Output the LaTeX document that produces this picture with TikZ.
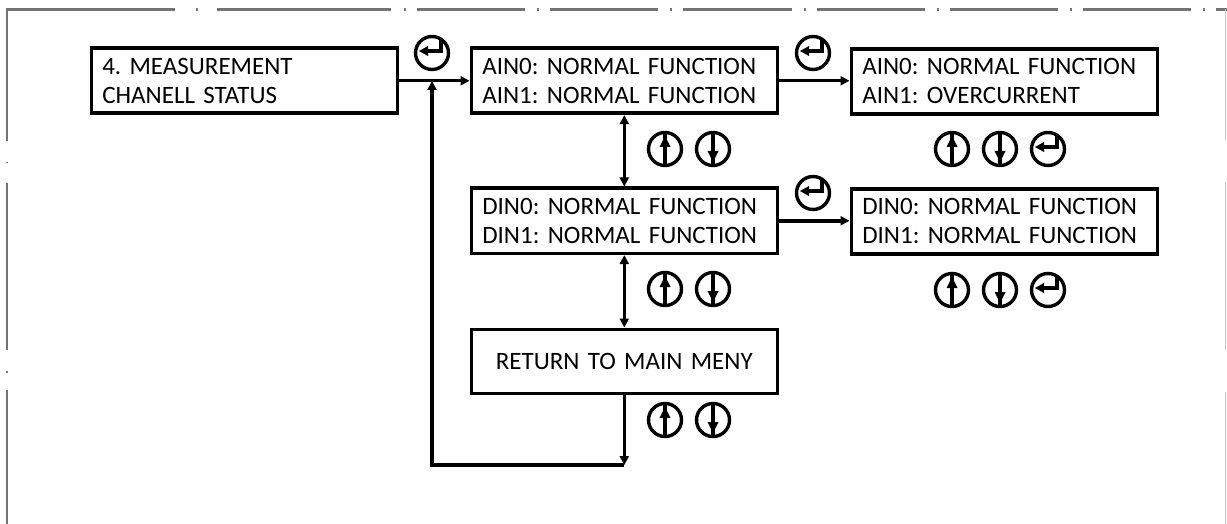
\documentclass[tikz,border=0pt]{standalone}
\usepackage{fontspec}
\setmainfont{Carlito}
\usetikzlibrary{arrows.meta}

\definecolor{framegray}{gray}{0.45}
\definecolor{framelight}{gray}{0.78}

\tikzset{
  menubox/.style={draw, line width=3.6pt, anchor=north west,
    minimum width=306pt, minimum height=65pt, inner xsep=11pt, inner ysep=0pt,
    text width=284pt, align=left, font=\fontsize{25}{29}\selectfont\frenchspacing},
  centerbox/.style={menubox, align=center},
  conn/.style={line width=3.4pt, -{Triangle[length=9pt,width=9pt]}},
  biconn/.style={line width=3.4pt, {Triangle[length=9pt,width=9pt]}-{Triangle[length=9pt,width=9pt]}},
  frameline/.style={draw=framegray, line width=2.4pt},
  framefaint/.style={draw=framelight, line width=1.8pt},
  keyring/.style={line width=3.4pt},
  keybar/.style={line width=3.2pt},
  % return key: circle with a hooked arrow pointing left
  enterkey/.pic={
    \draw[keyring] (0,0) circle (16.5);
    \draw[keybar] (9,-13) -- (9,-2) -- (-5,-2);
    \fill (-13,-2) -- (-4,-7) -- (-4,3) -- cycle;
  },
  % up key: circle, vertical bar, arrowhead pointing up
  upkey/.pic={
    \draw[keyring] (0,0) circle (16.5);
    \draw[keybar] (0,16.5) -- (0,-16.5);
    \fill (0,-13) -- (5.5,-2) -- (-5.5,-2) -- cycle;
  },
  % down key: circle, vertical bar, arrowhead pointing down
  downkey/.pic={
    \draw[keyring] (0,0) circle (16.5);
    \draw[keybar] (0,16.5) -- (0,-16.5);
    \fill (0,13) -- (5.5,2) -- (-5.5,2) -- cycle;
  }
}

\begin{document}
\begin{tikzpicture}[x=1pt, y=-1pt]
  \useasboundingbox (0,0) rectangle (1227,524);

  % outer frame (dash-dot border)
  \draw[frameline] (7,524) -- (7,390);
  \draw[frameline] (7,371) -- (7,372.5);
  \draw[frameline] (7,350) -- (7,183);
  \draw[frameline] (7,162) -- (7,163.5);
  \draw[frameline] (7,141) -- (7,9.5) -- (175,9.5);
  \foreach \a/\b in {217/391, 417/525, 550/658, 683/792, 817/925, 950/1058, 1083/1191, 1216/1227}
    \draw[frameline] (\a,9.5) -- (\b,9.5);
  \foreach \d in {196, 404, 537, 670, 804, 937, 1070, 1203}
    \draw[frameline] (\d,9.5) -- (\d+1.5,9.5);
  \draw[framefaint] (1225.5,9.5) -- (1225.5,140);
  \draw[framefaint] (1225.5,182) -- (1225.5,350);
  \draw[framefaint] (1225.5,392) -- (1225.5,524);

  % menu screens
  \node[menubox] (meas) at (89.5,46.5) {4. MEASUREMENT\\CHANELL STATUS};
  \node[menubox] (ain) at (469.5,46.5) {AIN0: NORMAL FUNCTION\\AIN1: NORMAL FUNCTION};
  \node[menubox] (ainx) at (849.5,47) {AIN0: NORMAL FUNCTION\\AIN1: OVERCURRENT};
  \node[menubox] (din) at (469.5,186.5) {DIN0: NORMAL FUNCTION\\DIN1: NORMAL FUNCTION};
  \node[menubox] (dinx) at (849.5,187) {DIN0: NORMAL FUNCTION\\DIN1: NORMAL FUNCTION};
  \node[centerbox, minimum height=64pt] (ret) at (469.5,327.5) {RETURN TO MAIN MENY};

  % connectors
  \coordinate (join) at (432,81);
  \coordinate (corner) at (ret.south |- 0,465);
  \draw[conn] (meas.east) -- (ain.west);
  \draw[conn] (ain.east) -- (ain.east -| ainx.west);
  \draw[conn] (din.east) -- (din.east -| dinx.west);
  \draw[biconn] (ain.south) -- (din.north);
  \draw[biconn] (din.south) -- (ret.north);
  \draw[conn] (ret.south) -- (corner);
  \draw[conn] (corner) -| (join);

  % key symbols
  \pic at (432,53) {enterkey};
  \pic at (813,53) {enterkey};
  \pic at (813,193) {enterkey};
  \pic at (665,149) {upkey};
  \pic at (713,149) {downkey};
  \pic at (665,289) {upkey};
  \pic at (713,289) {downkey};
  \pic at (665,420) {upkey};
  \pic at (713,420) {downkey};
  \pic at (952,149) {upkey};
  \pic at (1000,149) {downkey};
  \pic at (1048,149) {enterkey};
  \pic at (952,290) {upkey};
  \pic at (1000,290) {downkey};
  \pic at (1048,290) {enterkey};
\end{tikzpicture}
\end{document}
